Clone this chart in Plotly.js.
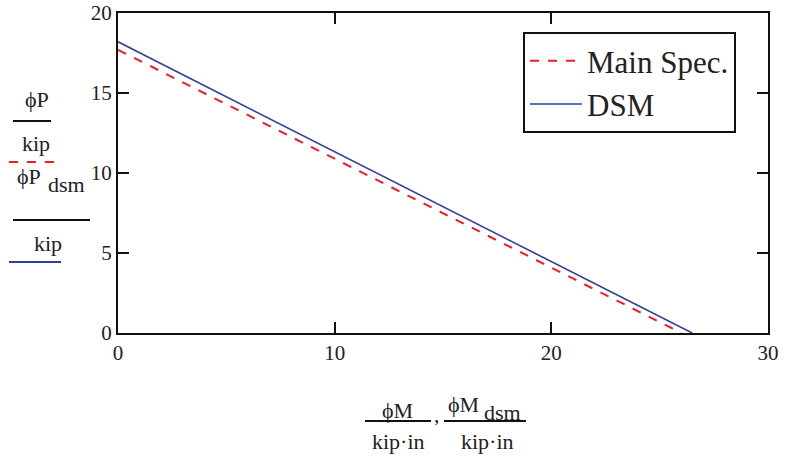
<!DOCTYPE html>
<html><head><meta charset="utf-8">
<script src="https://cdn.plot.ly/plotly-3.0.1.min.js"></script>
<style>html,body{margin:0;padding:0;background:#fff}</style>
</head><body>
<div id="chart" style="width:787px;height:460px"></div>
<pre id="out" style="position:absolute;left:0;top:446px;font-size:1px;margin:0;color:#fff"></pre>
<script>
// Data
const mainSpecM = [0, 26.0];
const mainSpecP = [17.7, 0];
const dsmM = [0, 26.5];
const dsmP = [18.2, 0];
const seriesNames = ["Main Spec.", "DSM"];
const xTicks = [0, 10, 20, 30];
const yTicks = [0, 5, 10, 15, 20];

const FONT = "'Liberation Serif', serif";
const red = "rgb(238,28,37)";
const blue = "rgb(46,64,160)";

const L = 118, R = 19, T = 13, B = 127, W = 787, H = 460;
const pw = W - L - R, ph = H - T - B;
const px = x => (x - L) / pw;
const py = y => (H - B - y) / ph;

const traces = [
  {x: mainSpecM, y: mainSpecP, name: seriesNames[0], mode: "lines",
   line: {color: red, width: 2, dash: "dash"}},
  {x: dsmM, y: dsmP, name: seriesNames[1], mode: "lines",
   line: {color: blue, width: 1.6}}
];

function ann(text, x, y, size, anchor) {
  return {text: text, xref: "paper", yref: "paper", x: px(x), y: py(y),
    xanchor: anchor || "center", yanchor: "middle", showarrow: false,
    font: {family: FONT, size: size || 22, color: "#222"}};
}
function hline(x0, x1, y, color, width, dash) {
  return {type: "line", xref: "paper", yref: "paper",
    x0: px(x0), x1: px(x1), y0: py(y), y1: py(y),
    line: {color: color, width: width, dash: dash || "solid"}};
}

const annotations = [
  ann("ϕP", 37, 99),
  ann("kip", 36, 143),
  ann("ϕP", 15, 176, 22, "left"),
  ann("dsm", 46, 184, 22, "left"),
  ann("kip", 48, 243),
  ann("ϕM", 397, 410),
  ann("kip·in", 398, 441),
  ann(",", 437, 414),
  ann("ϕM", 446, 404, 22, "left"),
  ann("dsm", 482, 412, 22, "left"),
  ann("kip·in", 487, 441)
];
const shapes = [
  hline(13, 51, 121, "#111", 2),
  hline(9, 61, 162, red, 2, "dash"),
  hline(13, 90, 220, "#111", 2),
  hline(9, 61, 262, blue, 2),
  hline(365, 431, 421, "#111", 2),
  hline(444, 526, 421, "#111", 2)
];

const axisCommon = {
  showline: true, linecolor: "#111", linewidth: 2, mirror: "ticks",
  ticks: "inside", ticklen: 11, tickwidth: 2, tickcolor: "#111",
  showgrid: false, zeroline: false,
  tickfont: {family: FONT, size: 21, color: "#222"}
};

const layout = {
  width: W, height: H,
  margin: {l: L, r: R, t: T, b: B},
  font: {family: FONT, color: "#222"},
  showlegend: true,
  legend: {x: px(523), y: py(32), xanchor: "left", yanchor: "top",
    bordercolor: "#111", borderwidth: 2, bgcolor: "#fff",
    font: {family: FONT, size: 31, color: "#222"}, itemwidth: 52},
  xaxis: Object.assign({}, axisCommon, {range: [0, 30], tickvals: xTicks}),
  yaxis: Object.assign({}, axisCommon, {range: [0, 20], tickvals: yTicks}),
  annotations: annotations,
  shapes: shapes
};

Plotly.newPlot("chart", traces, layout, {displayModeBar: false})
  .then(() => document.fonts ? document.fonts.ready : null)
  .then(() => Plotly.relayout("chart", {"legend.font.size": 31}))
  .then(() => { document.getElementById("out").textContent = "."; });
</script>
</body></html>
